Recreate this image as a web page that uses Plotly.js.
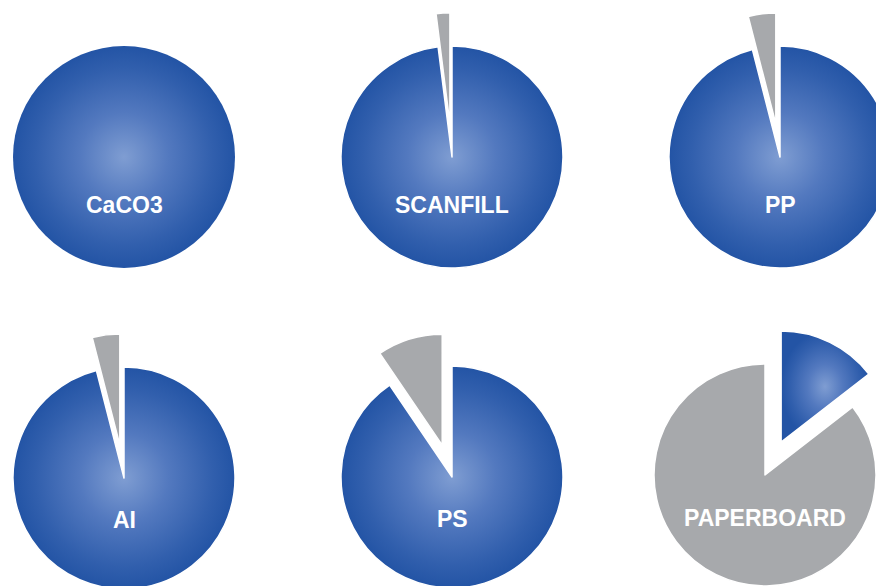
<!DOCTYPE html>
<html>
<head>
<meta charset="utf-8">
<script src="https://cdn.plot.ly/plotly-3.0.1.min.js"></script>
<style>
  html, body { margin: 0; padding: 0; overflow: hidden; background: #fff; width: 876px; height: 586px; }
  #chart { position: absolute; left: -60px; top: 0; width: 1000px; height: 700px; }
</style>
</head>
<body>
<div id="chart"></div>
<script>
// ---- data ----
const materials = ['CaCO3', 'SCANFILL', 'PP', 'AI', 'PS', 'PAPERBOARD'];
const blueShare = [100, 98, 96, 96, 90.5, 14.5];
const grayShare = [0, 2, 4, 4, 9.5, 85.5];

// ---- layout (page pixels) ----
const W = 1000, H = 700, OFF = 60;
const centerX = [124, 452, 780, 124, 452, 765];
const centerY = [157, 157, 157, 478, 477, 475];
const pullAmt = [0, 0.3, 0.3, 0.3, 0.3, 0.33];
const labelDy = [48, 48, 48, 42, 42, 43];
const R = 111;
const GRAY = '#a7a9ac';
const BLUE = '#2a5aaa';

const traces = [];
const annotations = [];
materials.forEach((name, i) => {
  const p = pullAmt[i];
  const s = 2 * R * (1 + p);
  const cx = centerX[i] + OFF, cy = centerY[i];
  const vals = [blueShare[i], grayShare[i]];
  const smaller = vals[0] < vals[1] ? 0 : 1;
  const pulls = [0, 0];
  pulls[smaller] = p;
  traces.push({
    type: 'pie',
    name: name,
    labels: ['main', 'other'],
    values: vals,
    sort: false,
    direction: 'clockwise',
    rotation: 0,
    pull: pulls,
    textinfo: 'none',
    hoverinfo: 'none',
    showlegend: false,
    marker: {
      colors: [BLUE, GRAY],
      line: { color: '#ffffff', width: vals.map(v => (v > 0 && v < 100) ? 1.5 : 0) }
    },
    domain: {
      x: [(cx - s / 2) / W, (cx + s / 2) / W],
      y: [1 - (cy + s / 2) / H, 1 - (cy - s / 2) / H]
    }
  });
  annotations.push({
    text: name,
    xref: 'paper', yref: 'paper',
    x: cx / W, y: 1 - (cy + labelDy[i]) / H,
    xanchor: 'center', yanchor: 'middle',
    showarrow: false,
    font: { family: 'Liberation Sans, Arial, sans-serif', size: 23, color: '#ffffff', weight: 'bold' }
  });
});

const layout = {
  width: W, height: H,
  margin: { l: 0, r: 0, t: 0, b: 0 },
  paper_bgcolor: '#ffffff',
  showlegend: false,
  annotations: annotations
};

Plotly.newPlot('chart', traces, layout, { staticPlot: true }).then(() => {
  const svg = document.querySelector('#chart .main-svg');
  const NS = 'http://www.w3.org/2000/svg';
  let defs = svg.querySelector('defs');
  if (!defs) { defs = document.createElementNS(NS, 'defs'); svg.insertBefore(defs, svg.firstChild); }
  const grad = document.createElementNS(NS, 'radialGradient');
  grad.setAttribute('id', 'blueGrad');
  grad.setAttribute('cx', '0.5'); grad.setAttribute('cy', '0.5'); grad.setAttribute('r', '0.5');
  [['0', '#7f9dd2'], ['0.4', '#5379bf'], ['0.8', '#315fad'], ['1', '#2354a5']].forEach(([o, c]) => {
    const st = document.createElementNS(NS, 'stop');
    st.setAttribute('offset', o); st.setAttribute('stop-color', c);
    grad.appendChild(st);
  });
  defs.appendChild(grad);
  document.querySelectorAll('#chart path.surface').forEach(pth => {
    const f = pth.style.fill.replace(/\s/g, '');
    if (f === 'rgb(42,90,170)') pth.style.fill = 'url(#blueGrad)';
  });
});
</script>
</body>
</html>
